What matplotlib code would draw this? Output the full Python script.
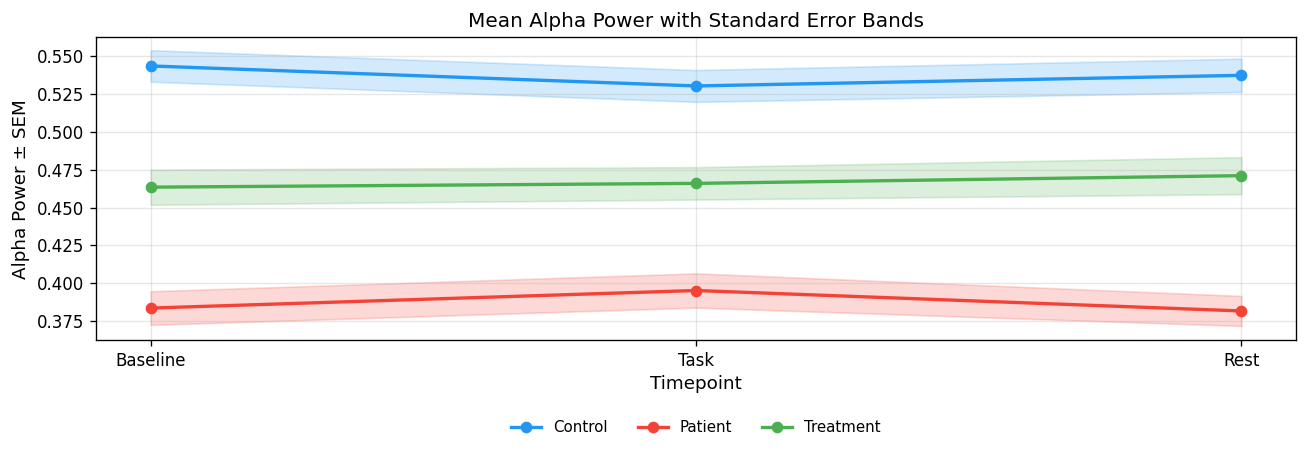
import numpy as np
import matplotlib
matplotlib.use("Agg")
import matplotlib.pyplot as plt

timepoints = ["Baseline", "Task", "Rest"]
groups = ["Control", "Patient", "Treatment"]
colors = ["#2196F3", "#F44336", "#4CAF50"]

control_mean = [0.5435, 0.5303, 0.5373]
control_sem = [0.0104, 0.0105, 0.0110]
patient_mean = [0.3837, 0.3953, 0.3818]
patient_sem = [0.0111, 0.0113, 0.0099]
treatment_mean = [0.4635, 0.4660, 0.4711]
treatment_sem = [0.0116, 0.0107, 0.0122]

means = [control_mean, patient_mean, treatment_mean]
sems = [control_sem, patient_sem, treatment_sem]

fig, ax = plt.subplots(figsize=(1307 / 120, 453 / 120), dpi=120)
x = np.arange(len(timepoints))

for name, m, s, c in zip(groups, means, sems, colors):
    m = np.array(m)
    s = np.array(s)
    ax.plot(x, m, marker="o", color=c, linewidth=2, markersize=6, label=name)
    ax.fill_between(x, m - s, m + s, color=c, alpha=0.2)

ax.set_xticks(x)
ax.set_xticklabels(timepoints)
ax.set_xlabel("Timepoint", fontsize=11, labelpad=3)
ax.set_ylabel("Alpha Power ± SEM", fontsize=11)
ax.set_title("Mean Alpha Power with Standard Error Bands", fontsize=12)
ax.grid(True, alpha=0.3)
ax.set_ylim(0.3625, 0.5625)

# legend sits below the axes, centred on the plot area
ax.legend(loc="upper center", ncol=3, frameon=False, fontsize=9,
          bbox_to_anchor=(0.5, -0.22))
fig.subplots_adjust(left=0.0735, right=0.9916, top=0.918, bottom=0.249)
plt.savefig("out.png", dpi=120)
